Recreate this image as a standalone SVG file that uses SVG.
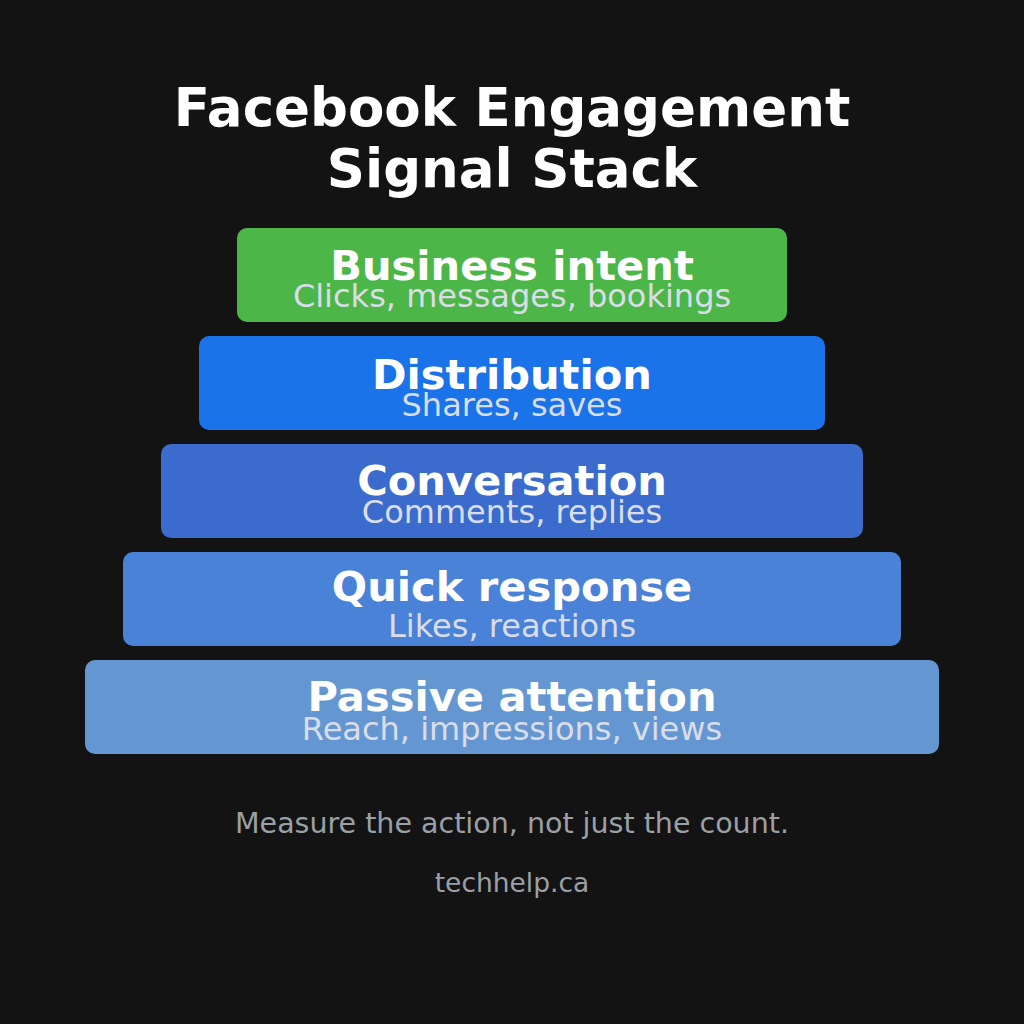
<svg xmlns="http://www.w3.org/2000/svg" width="1024" height="1024" viewBox="0 0 1024 1024">
<style>
.t{font-family:"DejaVu Sans",sans-serif;font-weight:bold;fill:#ffffff;text-anchor:middle}
.h{font-family:"DejaVu Sans",sans-serif;font-weight:bold;font-size:41.6px;fill:#ffffff;text-anchor:middle}
.s{font-family:"DejaVu Sans",sans-serif;font-size:32px;fill:#d9dde8;text-anchor:middle}
.f{font-family:"DejaVu Sans",sans-serif;font-size:28.5px;fill:#9aa0a6;text-anchor:middle}
</style>
<rect width="1024" height="1024" fill="#131313"/>
<text class="t" x="512" y="126" font-size="53">Facebook Engagement</text>
<text class="t" x="512" y="187" font-size="53">Signal Stack</text>
<g id="business-intent">
<rect x="237" y="228" width="550" height="94" rx="10" fill="#4cb648"/>
<text class="h" x="512" y="280">Business intent</text>
<text class="s" x="512" y="307">Clicks, messages, bookings</text>
</g>
<g id="distribution">
<rect x="199" y="336" width="626" height="94" rx="10" fill="#1a73e8"/>
<text class="h" x="512" y="389">Distribution</text>
<text class="s" x="512" y="416">Shares, saves</text>
</g>
<g id="conversation">
<rect x="161" y="444" width="702" height="94" rx="10" fill="#3b6bcc"/>
<text class="h" x="512" y="495">Conversation</text>
<text class="s" x="512" y="523">Comments, replies</text>
</g>
<g id="quick-response">
<rect x="123" y="552" width="778" height="94" rx="10" fill="#4a82d8"/>
<text class="h" x="512" y="601">Quick response</text>
<text class="s" x="512" y="637">Likes, reactions</text>
</g>
<g id="passive-attention">
<rect x="85" y="660" width="854" height="94" rx="10" fill="#6497d2"/>
<text class="h" x="512" y="711">Passive attention</text>
<text class="s" x="512" y="740">Reach, impressions, views</text>
</g>
<g id="connectors"></g>
<text class="f" x="512" y="833">Measure the action, not just the count.</text>
<text class="f" x="512" y="892" style="font-size:26.5px">techhelp.ca</text>
</svg>
